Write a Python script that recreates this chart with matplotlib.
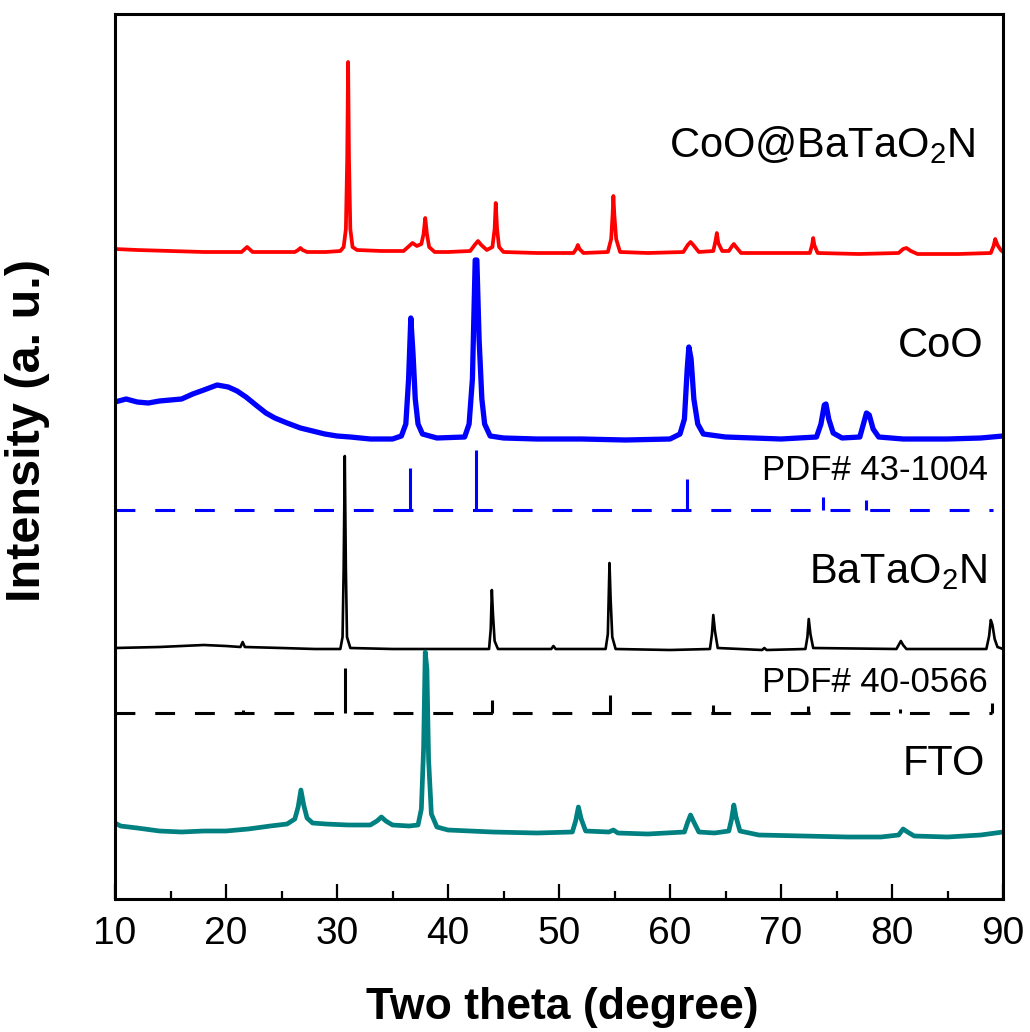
import matplotlib
matplotlib.use("Agg")
import matplotlib.pyplot as plt

plt.rcParams['font.family'] = ['Liberation Sans', 'DejaVu Sans']
plt.rcParams['mathtext.fontset'] = 'custom'
plt.rcParams['mathtext.rm'] = 'Liberation Sans'
plt.rcParams['mathtext.it'] = 'Liberation Sans'

# traced XRD curves (two theta, intensity a.u. incl. stack offset)
tt_red = [10, 12, 15, 18, 21.4, 21.7, 21.9, 22.1, 22.4, 24, 26.2, 26.5, 26.7, 26.9,
          27.3, 29, 30.3, 30.6, 30.8, 30.92, 31.0, 31.08, 31.2, 31.4, 31.8, 34,
          36.0, 36.5, 36.8, 37.2, 37.6, 37.8, 37.95, 38.1, 38.3, 38.8, 40, 42.0,
          42.4, 42.7, 43.0, 43.5, 44.0, 44.2, 44.3, 44.42, 44.6, 45, 48, 51.3,
          51.55, 51.7, 51.85, 52.2, 54.4, 54.7, 54.83, 54.9, 54.98, 55.15, 55.5,
          58, 61.2, 61.6, 61.85, 62.1, 62.6, 63.9, 64.1, 64.22, 64.35, 64.7, 65.3,
          65.6, 65.75, 65.95, 66.4, 70, 72.6, 72.8, 72.9, 73.0, 73.3, 77, 80.6,
          81.0, 81.3, 81.7, 82.3, 86, 88.9, 89.15, 89.3, 89.5, 89.8, 90]
i_red = [650, 649, 648, 647, 647, 650, 652, 650, 647, 647, 647, 649, 651, 649,
         647, 647, 648, 652, 670, 740, 837, 740, 670, 652, 649, 648,
         648, 653, 656, 653, 655, 665, 681, 665, 652, 647, 647, 648,
         654, 658, 654, 649, 652, 670, 696, 670, 652, 647, 646, 646,
         650, 654, 650, 646, 647, 660, 685, 703, 685, 660, 647,
         646, 647, 654, 657, 654, 647, 648, 658, 666, 656, 648, 648,
         653, 655, 652, 646, 646, 646, 654, 661, 654, 646, 645, 646,
         650, 651, 648, 645, 645, 646, 653, 660, 654, 649, 647]

tt_blue = [10, 11, 12, 13, 14, 15, 16, 17, 18, 19.2, 20.2, 21.0, 21.8, 22.8, 23.6,
           24.4, 25.5, 26.7, 27.8, 28.9, 30, 31.2, 33, 35, 35.8, 36.2, 36.45,
           36.65, 36.85, 37.05, 37.3, 37.7, 39, 41.5, 41.9, 42.2, 42.45, 42.6,
           42.8, 43.05, 43.3, 43.8, 45, 48, 52, 56, 60, 60.9, 61.3, 61.55, 61.7,
           61.9, 62.15, 62.5, 63, 65, 70, 73.2, 73.6, 73.9, 74.05, 74.3, 74.7,
           75.5, 77.1, 77.5, 77.7, 77.95, 78.3, 78.8, 81, 85, 88, 90]
i_blue = [497, 500, 497, 496, 498, 499, 500, 505, 509, 514, 512, 508, 502, 493, 486,
          481, 476, 471, 468, 465, 463, 462, 460, 460, 463, 475, 520,
          581, 545, 500, 475, 465, 461, 462, 475, 520, 639, 639,
          560, 500, 475, 463, 461, 460, 460, 459, 460, 465, 480, 530, 552,
          540, 500, 475, 465, 462, 460, 462, 475, 494, 495, 480, 466,
          461, 462, 478, 486, 484, 470, 462, 460, 460, 461, 463]

tt_black = [10, 14, 18, 20, 21.3, 21.5, 21.7, 25, 28, 30.3, 30.5, 30.6, 30.7, 30.8,
            30.9, 31.2, 35, 40, 43.7, 43.85, 43.95, 44.05, 44.2, 44.5, 49.3, 49.5,
            49.7, 54.2, 54.4, 54.55, 54.65, 54.8, 55.1, 60, 63.6, 63.78, 63.9,
            64.05, 64.3, 68.3, 68.5, 68.7, 72.2, 72.38, 72.5, 72.65, 72.9, 80.4,
            80.65, 80.8, 81.0, 81.3, 88.5, 88.75, 88.9, 89.05, 89.25, 89.5, 90]
i_black = [251, 252, 254, 253, 252, 257, 252, 251, 250, 250, 262, 330, 443, 330,
           262, 251, 250, 250, 250, 270, 309, 285, 258, 250, 250, 253,
           250, 250, 265, 336, 300, 262, 250, 249, 250, 265, 284,
           268, 251, 249, 251, 249, 250, 262, 280, 265, 251, 250,
           255, 258, 254, 250, 250, 263, 279, 274, 260, 252, 250]

tt_fto = [10, 10.5, 12, 14, 16, 18, 20, 22, 24, 25.5, 26.2, 26.5, 26.75, 27.0, 27.3,
          27.8, 29, 31, 33, 33.6, 34.0, 34.4, 35, 36.5, 37.3, 37.6, 37.8, 37.95,
          38.1, 38.25, 38.5, 39, 40, 44, 48, 51.2, 51.5, 51.75, 52.0, 52.4, 54.5,
          54.9, 55.3, 58, 61.3, 61.6, 61.85, 62.1, 62.6, 64, 65.3, 65.55, 65.75,
          65.95, 66.3, 68, 72, 76, 79, 80.6, 81.0, 81.4, 82, 85, 88, 90]
i_fto = [76, 73, 71, 68, 67, 68, 68, 70, 73, 75, 80, 92, 109, 94, 81,
         76, 75, 74, 74, 78, 82, 78, 74, 73, 74, 90, 150, 247,
         230, 140, 85, 72, 69, 67, 66, 67, 78, 92, 80, 68, 67,
         69, 66, 65, 67, 77, 84, 78, 67, 66, 68, 80, 94,
         82, 68, 64, 63, 62, 62, 64, 70, 67, 63, 62, 64, 67]

# reference sticks
pdf_coo_pos = [36.6, 42.5, 61.5, 73.8, 77.7]
pdf_coo_top = [431, 449, 420, 402, 399]
pdf_coo_base = 389
pdf_bto_pos = [21.5, 30.7, 44.0, 54.6, 63.9, 72.4, 80.7, 89.0]
pdf_bto_top = [189, 231, 199, 204, 194, 193, 190, 196]
pdf_bto_base = 186

fig = plt.figure(figsize=(10.3, 10.32), dpi=100)
ax = fig.add_axes([115/1030, 1-899/1032, 888/1030, 885/1032])

ax.plot(tt_red, i_red, color='#FF0000', lw=2.7, solid_joinstyle='round')
ax.plot(tt_blue, i_blue, color='#0000FF', lw=3.8, solid_joinstyle='round')
ax.plot(tt_black, i_black, color='black', lw=1.9, solid_joinstyle='round')
ax.plot(tt_fto, i_fto, color='#008080', lw=3.4, solid_joinstyle='round')

ax.plot([10, 89.1], [pdf_coo_base, pdf_coo_base], color='#0000FF',
        lw=2.2, linestyle=(0, (6.5, 6.5)))
ax.vlines(pdf_coo_pos, pdf_coo_base, pdf_coo_top, color='#0000FF', lw=2.2)
ax.plot([10, pdf_bto_pos[-1]], [pdf_bto_base, pdf_bto_base], color='black',
        lw=2.2, linestyle=(0, (6.5, 6.5)))
ax.vlines(pdf_bto_pos, pdf_bto_base, pdf_bto_top, color='black', lw=2.2)

ax.text(87.5, 742, 'CoO@BaTaO$_2$N', fontsize=30, ha='right', va='baseline')
ax.text(88.2, 542, 'CoO', fontsize=30, ha='right', va='baseline')
ax.text(88.6, 419, 'PDF# 43-1004', fontsize=25, ha='right', va='baseline')
ax.text(88.6, 316, 'BaTaO$_2$N', fontsize=30, ha='right', va='baseline')
ax.text(88.6, 207, 'PDF# 40-0566', fontsize=25, ha='right', va='baseline')
ax.text(88.4, 124, 'FTO', fontsize=30, ha='right', va='baseline')

ax.set_xlim(10, 90)
ax.set_ylim(0, 885)
ax.set_xticks(range(10, 91, 10))
ax.set_xticks(range(15, 90, 10), minor=True)
ax.set_yticks([])
ax.tick_params(axis='x', which='major', direction='in', length=11, width=1.6,
               labelsize=28, pad=12)
ax.tick_params(axis='x', which='minor', direction='in', length=6, width=1.6)
for s in ax.spines.values():
    s.set_linewidth(2.2)

ax.set_xlabel('Two theta (degree)', fontsize=32, fontweight='bold')
ax.xaxis.set_label_coords(0.504, -0.1)
ax.set_ylabel('Intensity (a. u.)', fontsize=35, fontweight='bold', va='center')
ax.yaxis.set_label_coords(-0.098, 0.529)

fig.savefig('out.png', dpi=100)
